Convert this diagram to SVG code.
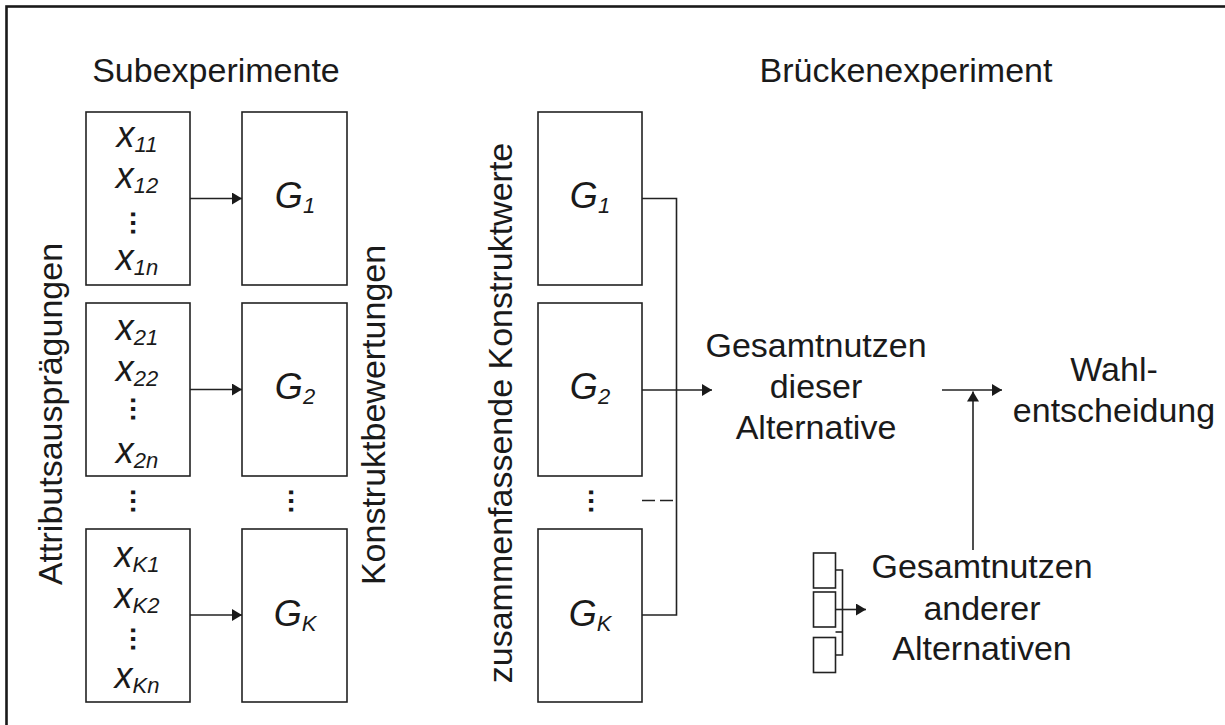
<svg xmlns="http://www.w3.org/2000/svg" width="1225" height="725" viewBox="0 0 1225 725">
  <defs>
    <style>
      .frame { fill: none; stroke: #1a1a1a; stroke-width: 2.6; }
      .box { fill: #ffffff; stroke: #222222; stroke-width: 1.6; }
      .wire { fill: none; stroke: #222222; stroke-width: 1.6; }
      .lbl { font-family: "Liberation Sans", Arial, sans-serif; font-size: 34px; fill: #1a1a1a; text-anchor: middle; }
      .sym { font-family: "Liberation Sans", Arial, sans-serif; font-size: 36px; font-style: italic; fill: #1a1a1a; text-anchor: middle; }
      .sub { font-size: 22px; }
      .dots { font-family: "Liberation Sans", Arial, sans-serif; font-size: 27px; font-weight: bold; fill: #1a1a1a; text-anchor: middle; }
    </style>
    <marker id="arrow" markerUnits="userSpaceOnUse" markerWidth="11" markerHeight="12" refX="10" refY="6" orient="auto">
      <path d="M0,0 L10,6 L0,12 z" fill="#1a1a1a"/>
    </marker>
  </defs>

  <rect width="1225" height="725" fill="#ffffff"/>

  <!-- outer frame, open to the right and bottom -->
  <rect class="frame" x="6.5" y="6.5" width="1240" height="740"/>

  <!-- section headings -->
  <text class="lbl" x="216" y="82">Subexperimente</text>
  <text class="lbl" x="906" y="82">Brückenexperiment</text>

  <!-- vertical captions -->
  <text class="lbl" transform="translate(62,414) rotate(-90)">Attributsausprägungen</text>
  <text class="lbl" transform="translate(385,415) rotate(-90)">Konstruktbewertungen</text>
  <text class="lbl" transform="translate(512,413) rotate(-90)">zusammenfassende Konstruktwerte</text>

  <!-- attribute level boxes -->
  <g id="attr-1">
    <rect class="box" x="86" y="112" width="104" height="173"/>
    <text class="sym" x="137" y="147">x<tspan class="sub" dy="5">11</tspan></text>
    <text class="sym" x="137" y="188">x<tspan class="sub" dy="5">12</tspan></text>
    <text class="dots" transform="translate(131,223) rotate(90)">…</text>
    <text class="sym" x="137" y="270">x<tspan class="sub" dy="5">1n</tspan></text>
  </g>
  <g id="attr-2">
    <rect class="box" x="86" y="303" width="104" height="173"/>
    <text class="sym" x="137" y="340">x<tspan class="sub" dy="5">21</tspan></text>
    <text class="sym" x="137" y="381">x<tspan class="sub" dy="5">22</tspan></text>
    <text class="dots" transform="translate(131,409) rotate(90)">…</text>
    <text class="sym" x="137" y="463">x<tspan class="sub" dy="5">2n</tspan></text>
  </g>
  <g id="attr-dots">
    <text class="dots" transform="translate(131,501) rotate(90)">…</text>
  </g>
  <g id="attr-k">
    <rect class="box" x="86" y="529" width="104" height="173"/>
    <text class="sym" x="137" y="567">x<tspan class="sub" dy="5">K1</tspan></text>
    <text class="sym" x="137" y="608">x<tspan class="sub" dy="5">K2</tspan></text>
    <text class="dots" transform="translate(131,639) rotate(90)">…</text>
    <text class="sym" x="137" y="688">x<tspan class="sub" dy="5">Kn</tspan></text>
  </g>

  <!-- construct evaluation boxes -->
  <g id="eval-1">
    <rect class="box" x="242" y="112" width="105" height="173"/>
    <text class="sym" x="295" y="208">G<tspan class="sub" dy="5">1</tspan></text>
  </g>
  <g id="eval-2">
    <rect class="box" x="242" y="303" width="105" height="173"/>
    <text class="sym" x="295" y="399">G<tspan class="sub" dy="5">2</tspan></text>
  </g>
  <g id="eval-dots">
    <text class="dots" transform="translate(289,501) rotate(90)">…</text>
  </g>
  <g id="eval-k">
    <rect class="box" x="242" y="529" width="105" height="173"/>
    <text class="sym" x="295" y="626">G<tspan class="sub" dy="5">K</tspan></text>
  </g>

  <!-- summarised construct values -->
  <g id="bridge-1">
    <rect class="box" x="538" y="112" width="104" height="173"/>
    <text class="sym" x="590" y="208">G<tspan class="sub" dy="5">1</tspan></text>
  </g>
  <g id="bridge-2">
    <rect class="box" x="538" y="303" width="104" height="173"/>
    <text class="sym" x="590" y="399">G<tspan class="sub" dy="5">2</tspan></text>
  </g>
  <g id="bridge-dots">
    <text class="dots" transform="translate(589,501) rotate(90)">…</text>
  </g>
  <g id="bridge-k">
    <rect class="box" x="538" y="529" width="104" height="173"/>
    <text class="sym" x="590" y="626">G<tspan class="sub" dy="5">K</tspan></text>
  </g>

  <!-- utility and choice labels -->
  <g id="utility-this">
    <text class="lbl" x="816" y="357">Gesamtnutzen</text>
    <text class="lbl" x="816" y="398">dieser</text>
    <text class="lbl" x="816" y="439">Alternative</text>
  </g>
  <g id="choice">
    <text class="lbl" x="1114" y="381">Wahl-</text>
    <text class="lbl" x="1114" y="422">entscheidung</text>
  </g>
  <g id="utility-others">
    <rect class="box" x="813.5" y="553" width="22" height="35"/>
    <rect class="box" x="813.5" y="592" width="22" height="35"/>
    <rect class="box" x="813.5" y="637.5" width="22" height="35"/>
    <text class="lbl" x="982" y="578">Gesamtnutzen</text>
    <text class="lbl" x="982" y="620">anderer</text>
    <text class="lbl" x="982" y="660">Alternativen</text>
  </g>

  <!-- connectors -->
  <g id="connectors">
    <line class="wire" x1="190" y1="198.5" x2="242" y2="198.5" marker-end="url(#arrow)"/>
    <line class="wire" x1="190" y1="389.5" x2="242" y2="389.5" marker-end="url(#arrow)"/>
    <line class="wire" x1="190" y1="615" x2="242" y2="615" marker-end="url(#arrow)"/>

    <polyline class="wire" points="642,198.5 676.5,198.5 676.5,615 642,615"/>
    <line class="wire" x1="642" y1="390" x2="712" y2="390" marker-end="url(#arrow)"/>
    <line class="wire" x1="642" y1="500.5" x2="676.5" y2="500.5" stroke-dasharray="13 5"/>

    <line class="wire" x1="942" y1="390" x2="1002" y2="390" marker-end="url(#arrow)"/>
    <line class="wire" x1="973" y1="550" x2="973" y2="391.5" marker-end="url(#arrow)"/>

    <polyline class="wire" points="835.5,570 842.5,570 842.5,655 835.5,655"/>
    <line class="wire" x1="835.5" y1="632" x2="842.5" y2="632"/>
    <line class="wire" x1="835.5" y1="609.5" x2="866" y2="609.5" marker-end="url(#arrow)"/>
  </g>
</svg>
